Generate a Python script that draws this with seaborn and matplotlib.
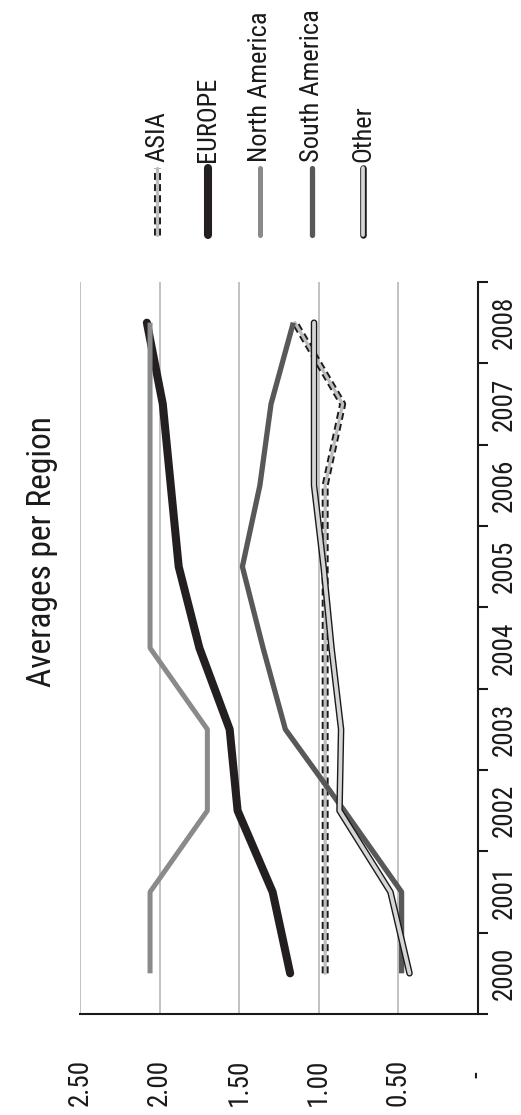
import matplotlib
matplotlib.use("Agg")
import matplotlib.pyplot as plt
import matplotlib.patheffects as pe
from matplotlib.lines import Line2D
from matplotlib import font_manager as fm
import seaborn as sns
import pandas as pd
import numpy as np

# datos
years = ["2000", "2001", "2002", "2003", "2004", "2005", "2006", "2007", "2008"]
asia = [0.96, 0.96, 0.96, 0.96, 0.96, 0.96, 0.96, 0.85, 1.15]
europe = [1.18, 1.29, 1.51, 1.56, 1.75, 1.88, 1.93, 1.98, 2.08]
north_america = [2.06, 2.06, 1.70, 1.70, 2.06, 2.06, 2.06, 2.06, 2.06]
south_america = [0.48, 0.48, 0.84, 1.21, 1.35, 1.48, 1.37, 1.30, 1.16]
other = [0.43, 0.55, 0.87, 0.86, 0.92, 0.97, 1.03, 1.03, 1.03]

value_ticks = [2.5, 2.0, 1.5, 1.0, 0.5, 0.0]
value_labels = ["2.50", "2.00", "1.50", "1.00", "0.50", "-  "]

sns.set_style("white")
familias = ['Liberation Sans Narrow', 'Roboto Condensed', 'Roboto',
            'Liberation Sans', 'DejaVu Sans']
plt.rcParams['font.family'] = familias
plt.rcParams['font.stretch'] = 'condensed'

# si no hay fuente angosta, achico un poco el texto
ruta = fm.findfont(fm.FontProperties(family=familias, stretch='condensed'))
angosta = ('Narrow' in ruta) or ('Condensed' in ruta)
k = 1.0 if angosta else 0.88
fs_tick = 19.5 * k
fs_legend = 19 * k
fs_title = 24 * k

W, H = 521, 1115
fig = plt.figure(figsize=(W / 100, H / 100), dpi=100)
ax = fig.add_axes([80 / W, 1 - 1014 / H, (478 - 80) / W, (1014 - 282) / H])

df = pd.DataFrame({
    "pos": np.arange(len(years)),
    "ASIA": asia,
    "EUROPE": europe,
    "North America": north_america,
    "South America": south_america,
    "Other": other,
})

asia_dash = (0, (1.0, 0.6))

# ASIA: raya negra con centro gris
sns.lineplot(data=df, x="ASIA", y="pos", orient="y", ax=ax, color="#1a1a1a",
             linewidth=5.0, linestyle=asia_dash)
sns.lineplot(data=df, x="ASIA", y="pos", orient="y", ax=ax, color="#bdbdbd",
             linewidth=2.3)
sns.lineplot(data=df, x="EUROPE", y="pos", orient="y", ax=ax, color="#231f20",
             linewidth=5.8, solid_capstyle="round", solid_joinstyle="round")
sns.lineplot(data=df, x="North America", y="pos", orient="y", ax=ax,
             color="#8a8a8c", linewidth=3.6, solid_capstyle="butt")
sns.lineplot(data=df, x="South America", y="pos", orient="y", ax=ax,
             color="#58585a", linewidth=3.8, solid_capstyle="butt")
sns.lineplot(data=df, x="Other", y="pos", orient="y", ax=ax, color="#d6d6d6",
             linewidth=2.7, solid_capstyle="round",
             path_effects=[pe.Stroke(linewidth=4.7, foreground="#1a1a1a",
                                     capstyle="round"), pe.Normal()])

ax.set_xlim(2.5, 0)
ax.set_ylim(-0.5, 8.5)
ax.set_xlabel("")
ax.set_ylabel("")

ax.set_xticks(value_ticks)
ax.set_xticklabels(value_labels, rotation=90, fontsize=fs_tick)
ax.tick_params(axis="x", direction="out", length=7, width=1.5, pad=25,
               color="#1a1a1a", labelcolor="#1a1a1a")

ax.yaxis.tick_right()
ax.set_yticks(np.arange(-0.5, 9, 1))
ax.set_yticks(np.arange(len(years)), minor=True)
ax.set_yticklabels(years, minor=True, rotation=90, va="center", fontsize=fs_tick)
ax.tick_params(axis="y", which="major", direction="out", length=7, width=1.5,
               right=True, left=False, labelright=False, labelleft=False,
               color="#1a1a1a")
ax.tick_params(axis="y", which="minor", length=0, pad=9, right=True,
               left=False, labelright=True, labelleft=False,
               labelcolor="#1a1a1a")

ax.grid(axis="x", color="#bdbdbd", linewidth=1.3)
ax.grid(axis="y", visible=False)
for s in ["left", "top"]:
    ax.spines[s].set_visible(False)
for s in ["bottom", "right"]:
    ax.spines[s].set_color("#1a1a1a")
    ax.spines[s].set_linewidth(1.5)

# titulo arriba del grafico original (a la izquierda una vez girado)
fig.text(42 / W, 1 - 552 / H, "Averages per Region", rotation=90,
         ha="center", va="center", fontsize=fs_title, color="#1a1a1a")

# leyenda manual, girada
legend_items = [
    ("ASIA", 157), ("EUROPE", 208), ("North America", 260),
    ("South America", 312), ("Other", 363),
]
y0, y1 = 1 - 235 / H, 1 - 168 / H
for name, px in legend_items:
    xf = px / W
    if name == "ASIA":
        fig.add_artist(Line2D([xf, xf], [y0, y1], transform=fig.transFigure,
                              color="#1a1a1a", lw=5.0, linestyle=asia_dash))
        fig.add_artist(Line2D([xf, xf], [y0, y1], transform=fig.transFigure,
                              color="#bdbdbd", lw=2.3))
    elif name == "EUROPE":
        fig.add_artist(Line2D([xf, xf], [y0, y1], transform=fig.transFigure,
                              color="#231f20", lw=5.8, solid_capstyle="round"))
    elif name == "North America":
        fig.add_artist(Line2D([xf, xf], [y0, y1], transform=fig.transFigure,
                              color="#8a8a8c", lw=3.6, solid_capstyle="round"))
    elif name == "South America":
        fig.add_artist(Line2D([xf, xf], [y0, y1], transform=fig.transFigure,
                              color="#58585a", lw=3.8, solid_capstyle="round"))
    else:
        fig.add_artist(Line2D([xf, xf], [y0, y1], transform=fig.transFigure,
                              color="#d6d6d6", lw=2.7, solid_capstyle="round",
                              path_effects=[pe.Stroke(linewidth=4.7,
                                                      foreground="#1a1a1a",
                                                      capstyle="round"),
                                            pe.Normal()]))
    fig.text(xf, 1 - 162 / H, name, rotation=90, ha="center", va="bottom",
             fontsize=fs_legend, color="#1a1a1a")

fig.savefig("out.png", dpi=100)
